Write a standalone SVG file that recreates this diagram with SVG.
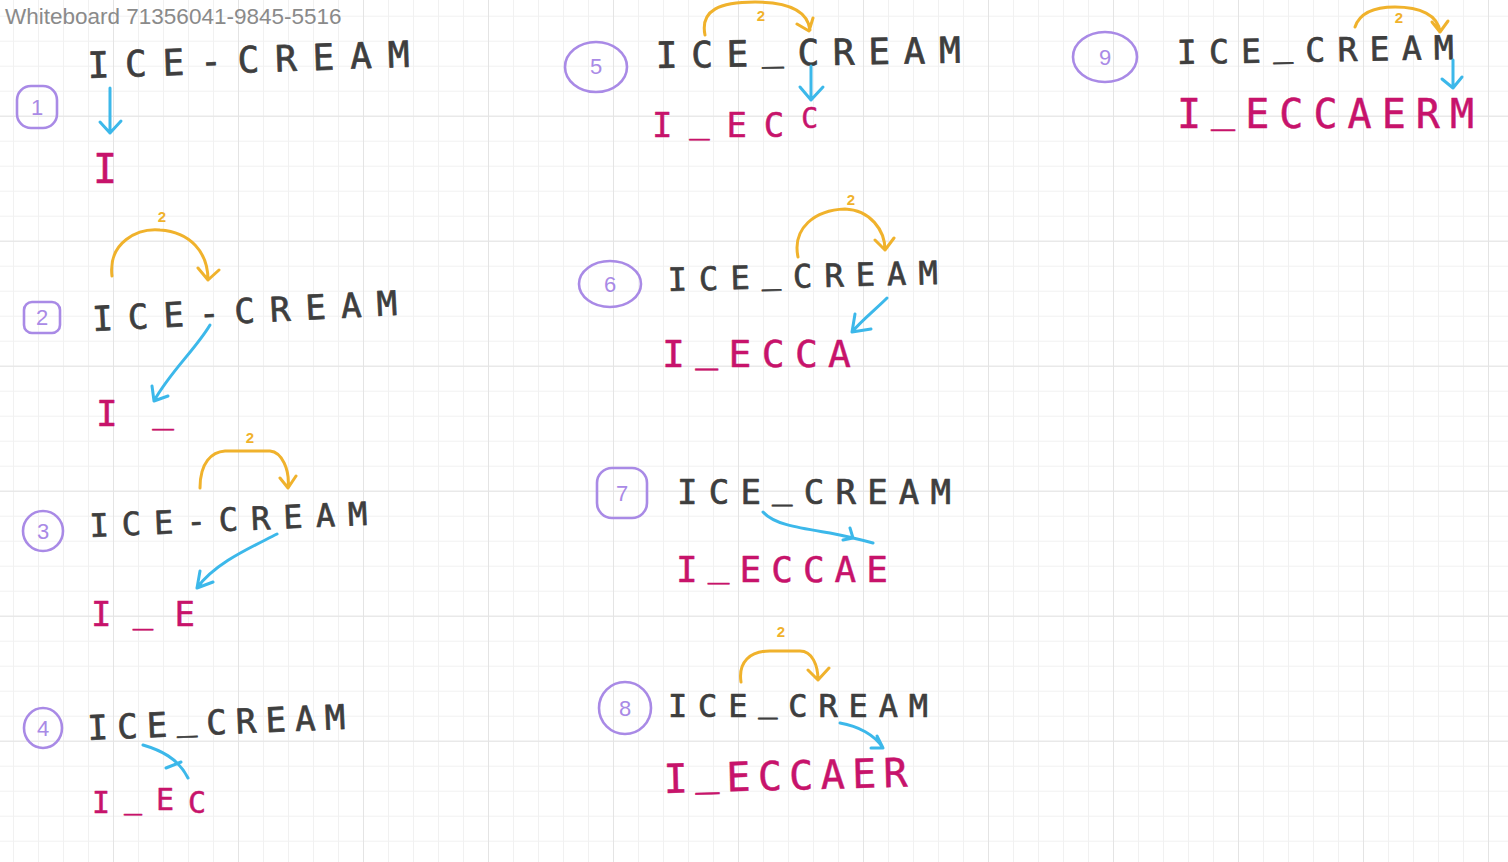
<svg xmlns="http://www.w3.org/2000/svg" width="1508" height="862" viewBox="0 0 1508 862">
<defs>
<pattern id="minor" width="25" height="25" patternUnits="userSpaceOnUse" x="13" y="15.7">
<path d="M0,0 L25,0 M0,0 L0,25" stroke="#f1f1f1" stroke-width="2" fill="none"/>
</pattern>
<pattern id="major" width="125" height="125" patternUnits="userSpaceOnUse" x="113" y="115.7">
<path d="M0,0 L125,0 M0,0 L0,125" stroke="#e4e4e4" stroke-width="2" fill="none"/>
</pattern>
</defs>
<style>
.ink{font-family:"DejaVu Sans Mono","Liberation Mono",monospace;fill:#3e3e3e;stroke:#3e3e3e;stroke-width:0.7;stroke-linejoin:round}
.out{font-family:"DejaVu Sans Mono","Liberation Mono",monospace;fill:#c7136b;stroke:#c7136b;stroke-width:0.5;stroke-linejoin:round}
.mark{fill:none;stroke:#a98ae6;stroke-width:2.6}
.digit{font-family:"Liberation Sans",Arial,sans-serif;fill:#a98ae6;font-size:22px;text-anchor:middle}
.two{font-family:"Liberation Sans",Arial,sans-serif;fill:#f0b22c;font-size:15px;font-weight:bold;text-anchor:middle}
.blue{fill:none;stroke:#3cb8ea;stroke-width:3;stroke-linecap:round;stroke-linejoin:round}
.orange{fill:none;stroke:#f0b22c;stroke-width:3;stroke-linecap:round;stroke-linejoin:round}
.title{font-family:"Liberation Sans",Arial,sans-serif;fill:#8a8a8a;font-size:22.5px}
</style>
<rect width="1508" height="862" fill="#ffffff"/>
<rect width="1508" height="862" fill="url(#minor)"/>
<rect width="1508" height="862" fill="url(#major)"/>
<text class="title" x="5" y="24">Whiteboard 71356041-9845-5516</text>

<g id="step1">
<rect class="mark" x="17" y="86" width="40" height="42" rx="14"/>
<text class="digit" x="37" y="115">1</text>
<text class="ink" x="88" y="78" font-size="36" textLength="322" lengthAdjust="spacing" transform="rotate(-2 88 78)">ICE-CREAM</text>
<text class="out" x="93" y="183" font-size="40">I</text>
</g>
<g id="step2">
<rect class="mark" x="24" y="302" width="36" height="31" rx="8"/>
<text class="digit" x="42" y="325">2</text>
<text class="ink" x="93" y="331" font-size="34" textLength="305" lengthAdjust="spacing" transform="rotate(-3 93 331)">ICE-CREAM</text>
<text class="out" x="96" y="426" font-size="36" textLength="78" lengthAdjust="spacing">I <tspan dy="-4">_</tspan></text>
</g>
<g id="step3">
<circle class="mark" cx="43" cy="531" r="20"/>
<text class="digit" x="43" y="539">3</text>
<text class="ink" x="90" y="537" font-size="32" textLength="278" lengthAdjust="spacing" transform="rotate(-2.5 90 537)">ICE-CREAM</text>
<text class="out" x="91" y="626" font-size="34" textLength="104" lengthAdjust="spacing">I <tspan dy="-4">_</tspan><tspan dy="4"> E</tspan></text>
</g>
<g id="step4">
<ellipse class="mark" cx="43" cy="728" rx="19" ry="20"/>
<text class="digit" x="43" y="736">4</text>
<text class="ink" x="88" y="740" font-size="34" textLength="258" lengthAdjust="spacing" transform="rotate(-2.5 88 740)">ICE<tspan dy="-6">_</tspan><tspan dy="6">CREAM</tspan></text>
<text class="out" x="92" y="813" font-size="30" textLength="114" lengthAdjust="spacing">I<tspan dy="-5">_</tspan><tspan dy="2">E</tspan><tspan dy="3">C</tspan></text>
</g>
<g id="step5">
<ellipse class="mark" cx="596" cy="67" rx="31" ry="25"/>
<text class="digit" x="596" y="74">5</text>
<text class="ink" x="656" y="68" font-size="36" textLength="305" lengthAdjust="spacing" transform="rotate(-1 656 68)">ICE<tspan dy="-6">_</tspan><tspan dy="6">CREAM</tspan></text>
<text class="out" x="652" y="137" font-size="34" textLength="166" lengthAdjust="spacing">I<tspan dy="-5">_</tspan><tspan dy="5">EC</tspan><tspan dy="-9" font-size="28">C</tspan></text>
</g>
<g id="step6">
<ellipse class="mark" cx="610" cy="284" rx="31" ry="23"/>
<text class="digit" x="610" y="292">6</text>
<text class="ink" x="668" y="291" font-size="32" textLength="270" lengthAdjust="spacing" transform="rotate(-1.5 668 291)">ICE<tspan dy="-5">_</tspan><tspan dy="5">CREAM</tspan></text>
<text class="out" x="662" y="367" font-size="38" textLength="189" lengthAdjust="spacing">I<tspan dy="-6">_</tspan><tspan dy="6">ECCA</tspan></text>
</g>
<g id="step7">
<rect class="mark" x="597" y="468" width="50" height="50" rx="15"/>
<text class="digit" x="622" y="501">7</text>
<text class="ink" x="677" y="504" font-size="34" textLength="274" lengthAdjust="spacing">ICE<tspan dy="-6">_</tspan><tspan dy="6">CREAM</tspan></text>
<text class="out" x="676" y="582" font-size="36" textLength="212" lengthAdjust="spacing">I<tspan dy="-6">_</tspan><tspan dy="6">ECCAE</tspan></text>
</g>
<g id="step8">
<circle class="mark" cx="625" cy="708" r="26"/>
<text class="digit" x="625" y="716">8</text>
<text class="ink" x="668" y="717" font-size="32" textLength="260" lengthAdjust="spacing">ICE<tspan dy="-5">_</tspan><tspan dy="5">CREAM</tspan></text>
<text class="out" x="664" y="793" font-size="40" textLength="244" lengthAdjust="spacing" transform="rotate(-1.5 664 793)">I<tspan dy="-7">_</tspan><tspan dy="7">ECCAER</tspan></text>
</g>
<g id="step9">
<ellipse class="mark" cx="1105" cy="57" rx="32" ry="25"/>
<text class="digit" x="1105" y="65">9</text>
<text class="ink" x="1177" y="64" font-size="33" textLength="277" lengthAdjust="spacing" transform="rotate(-1 1177 64)">ICE<tspan dy="-6">_</tspan><tspan dy="6">CREAM</tspan></text>
<text class="out" x="1177" y="128" font-size="40" textLength="297" lengthAdjust="spacing">I<tspan dy="-7">_</tspan><tspan dy="7">ECCAERM</tspan></text>
</g>

<g id="connectors">
<path class="blue" d="M110,88 L110,133 M100,122 L110,133 L121,121"/>
<path class="orange" d="M112,276 C108,242 138,228 160,230 C190,232 208,252 208,280 M198,268 L208,280 L219,270"/>
<text class="two" x="162" y="222">2</text>
<path class="blue" d="M210,325 C195,350 170,372 154,401 M152,386 L154,401 L168,396"/>
<path class="orange" d="M200,488 C200,462 212,452 225,451 L270,451 C282,452 290,470 288,488 M280,478 L288,488 L296,476"/>
<text class="two" x="250" y="443">2</text>
<path class="blue" d="M277,534 C250,548 215,563 197,588 M200,571 L197,588 L213,582"/>
<path class="blue" d="M143,745 C160,750 178,758 188,778 M166,768 L181,762"/>
<path class="orange" d="M705,35 C700,10 720,2 755,2 C790,2 808,12 810,30 M797,24 L809,31 L813,18"/>
<text class="two" x="761" y="21">2</text>
<path class="blue" d="M811,66 L811,100 M800,87 L811,100 L823,87"/>
<path class="orange" d="M798,257 C792,228 815,210 845,209 C870,210 885,230 885,250 M875,240 L885,250 L894,238"/>
<text class="two" x="851" y="205">2</text>
<path class="blue" d="M887,298 C875,310 862,320 852,332 M855,314 L852,332 L871,329"/>
<path class="blue" d="M763,512 C775,525 800,528 830,533 C850,537 862,540 873,543 M850,528 L853,538 L843,540"/>
<path class="orange" d="M741,682 C738,662 750,651 770,651 L800,651 C812,651 818,665 818,680 M808,670 L818,680 L829,668"/>
<text class="two" x="781" y="637">2</text>
<path class="blue" d="M840,723 C858,726 875,735 883,748 M877,736 L883,748 L871,748"/>
<path class="orange" d="M1355,27 C1360,12 1375,7 1395,7 C1420,7 1438,15 1440,32 M1432,22 L1440,32 L1448,21"/>
<text class="two" x="1399" y="23" font-size="13">2</text>
<path class="blue" d="M1453,60 L1453,88 M1442,79 L1453,88 L1462,77"/>
</g>
</svg>
